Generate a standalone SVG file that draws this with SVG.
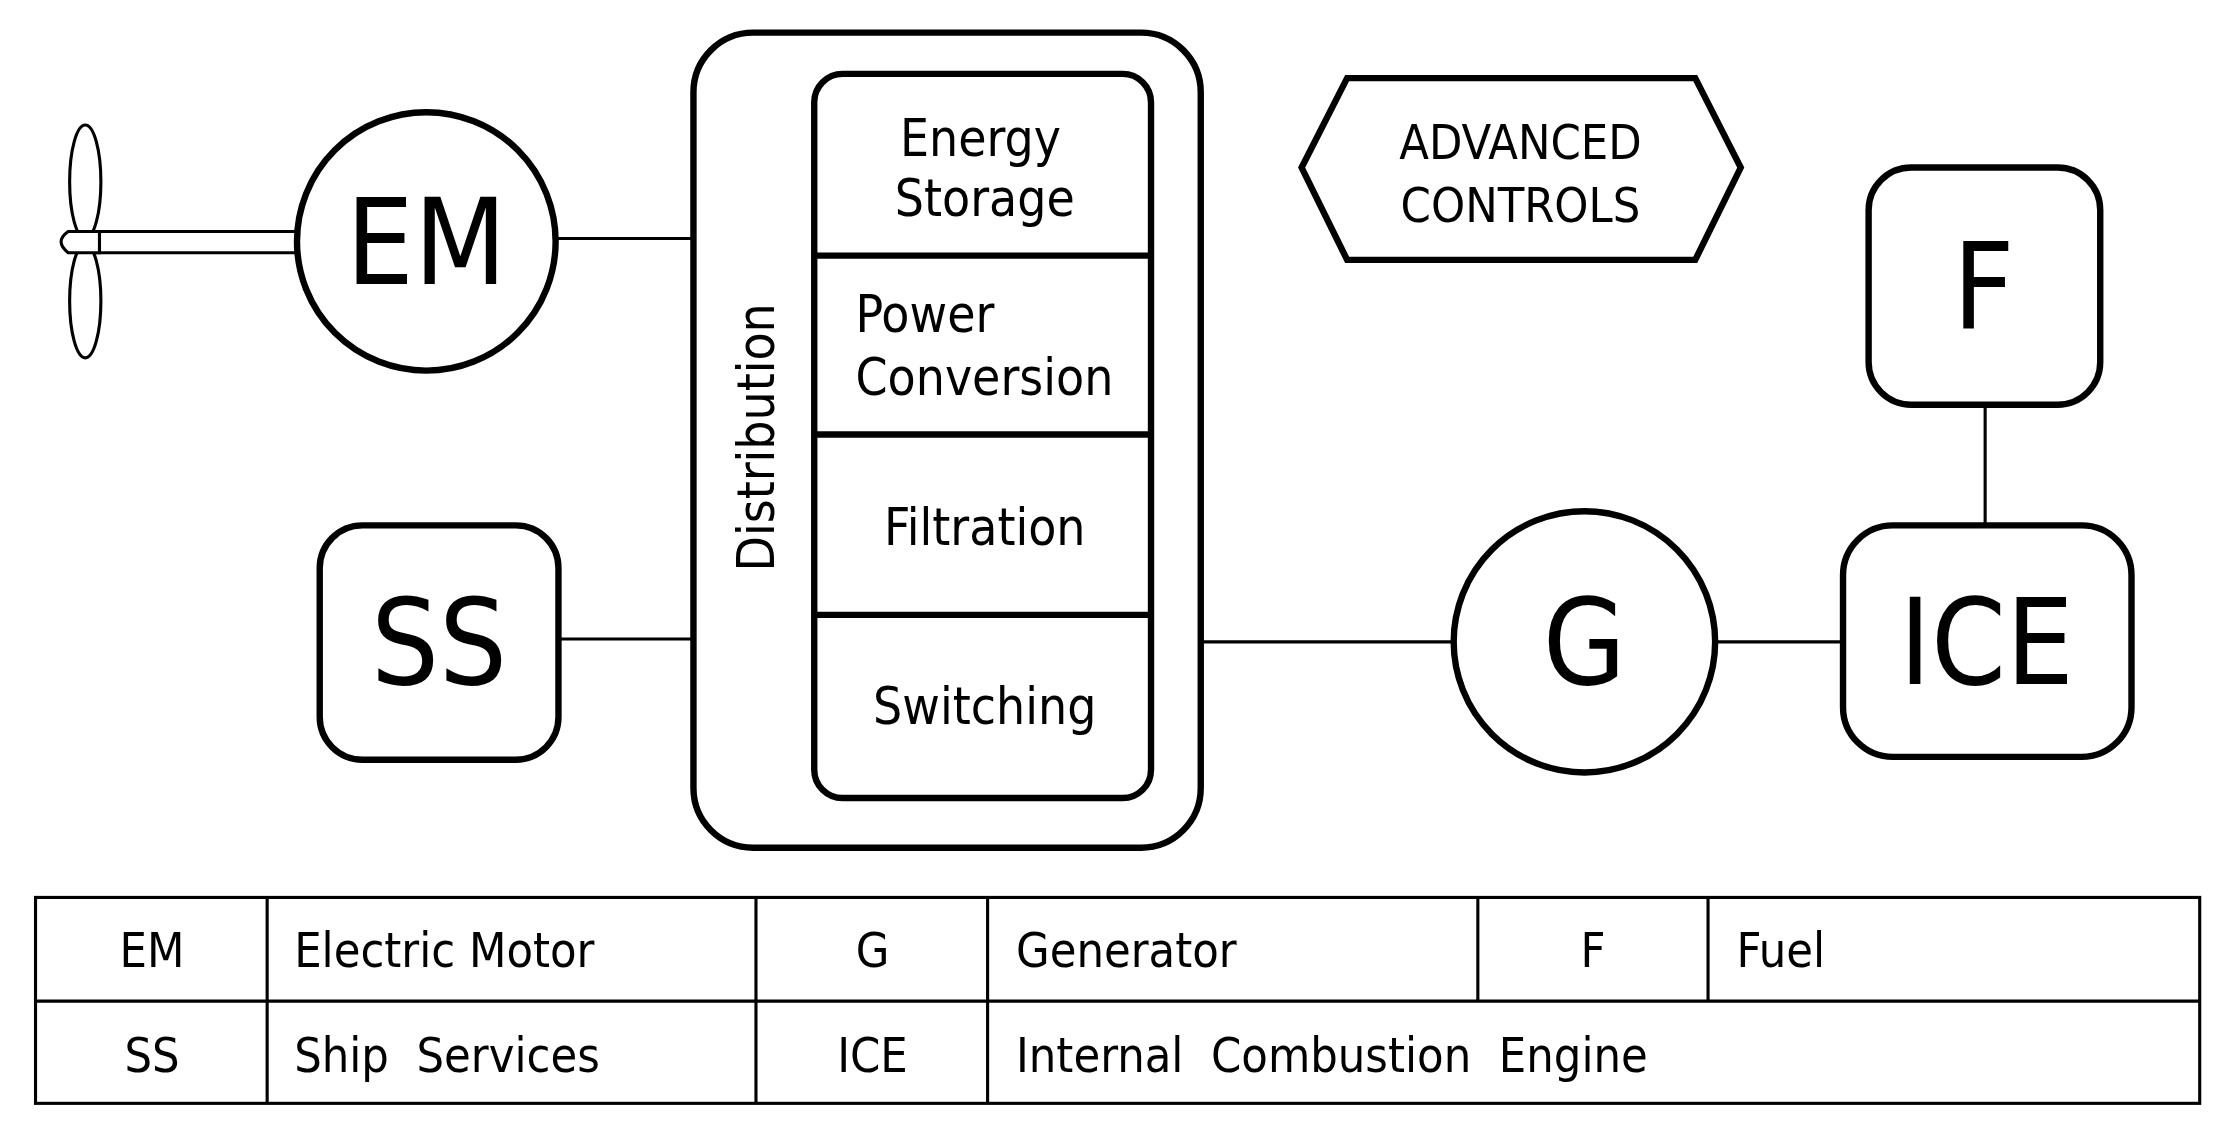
<svg xmlns="http://www.w3.org/2000/svg" width="2228" height="1136" viewBox="0 0 2228 1136">
<style>
.k{fill:none;stroke:#000;stroke-width:4.5}
.t{fill:none;stroke:#000;stroke-width:2.2}
text{font-family:"DejaVu Sans Condensed","Liberation Sans Narrow",sans-serif;fill:#000;text-anchor:middle}
.big{font-size:84px}
.m{font-size:36px}
.s{font-size:34px}
</style>
<rect width="2228" height="1136" fill="#fff"/>
<g transform="scale(1.421 1.42)">
<g id="connectors">
<line class="t" x1="392" y1="168" x2="488" y2="168"/>
<line class="t" x1="393" y1="450" x2="488" y2="450"/>
<line class="t" x1="845" y1="452" x2="1022" y2="452"/>
<line class="t" x1="1208" y1="452" x2="1297" y2="452"/>
<line class="t" x1="1397" y1="285" x2="1397" y2="370"/>
<line class="t" x1="66" y1="163" x2="208" y2="163"/>
<line class="t" x1="66" y1="178" x2="208" y2="178"/>
</g>
<g id="propeller">
<ellipse class="t" cx="60" cy="128" rx="11" ry="40"/>
<ellipse class="t" cx="60" cy="212" rx="11" ry="40"/>
<path d="M70 163 L48 163 Q38 170 48 178 L70 178 Z" fill="#fff" stroke="#000" stroke-width="2.2"/>
</g>
<g id="EM"><circle class="k" cx="300" cy="170" r="91"/><text class="big" x="300" y="200">EM</text></g>
<g id="SS"><rect class="k" x="225" y="370" width="168" height="165" rx="30"/><text class="big" x="309" y="482">SS</text></g>
<g id="distribution">
<rect class="k" x="488" y="23" width="357" height="574" rx="42"/>
<text class="m" transform="translate(545 308) rotate(-90)">Distribution</text>
<rect class="k" x="573" y="52" width="237" height="510" rx="20"/>
<line class="k" x1="573" y1="180" x2="810" y2="180"/>
<line class="k" x1="573" y1="306" x2="810" y2="306"/>
<line class="k" x1="573" y1="433" x2="810" y2="433"/>
</g>
<g id="energy-storage"><text class="m" x="690" y="110">Energy</text><text class="m" x="693" y="152">Storage</text></g>
<g id="power-conversion"><text class="m" x="602" y="234" text-anchor="start" style="text-anchor:start">Power</text><text class="m" x="602" y="278" style="text-anchor:start">Conversion</text></g>
<g id="filtration"><text class="m" x="693" y="384">Filtration</text></g>
<g id="switching"><text class="m" x="693" y="510">Switching</text></g>
<g id="advanced-controls">
<polygon class="k" points="916,118 948,55 1193,55 1225,118 1193,183 948,183"/>
<text class="s" x="1070" y="112">ADVANCED</text><text class="s" x="1070" y="156">CONTROLS</text>
</g>
<g id="G"><circle class="k" cx="1115" cy="452" r="92"/><text class="big" x="1115" y="482">G</text></g>
<g id="ICE"><rect class="k" x="1297" y="370" width="203" height="163" rx="35"/><text class="big" x="1398" y="482">ICE</text></g>
<g id="F"><rect class="k" x="1315" y="118" width="163" height="167" rx="30"/><text class="big" x="1396" y="232">F</text></g>
<g id="legend">
<rect class="t" x="25" y="632" width="1523" height="145"/>
<line class="t" x1="25" y1="705" x2="1548" y2="705"/>
<line class="t" x1="188" y1="632" x2="188" y2="777"/>
<line class="t" x1="532" y1="632" x2="532" y2="777"/>
<line class="t" x1="695" y1="632" x2="695" y2="777"/>
<line class="t" x1="1040" y1="632" x2="1040" y2="705"/>
<line class="t" x1="1202" y1="632" x2="1202" y2="705"/>
<text class="s" x="107" y="681">EM</text>
<text class="s" x="207" y="681" style="text-anchor:start">Electric  Motor</text>
<text class="s" x="614" y="681">G</text>
<text class="s" x="715" y="681" style="text-anchor:start">Generator</text>
<text class="s" x="1121" y="681">F</text>
<text class="s" x="1222" y="681" style="text-anchor:start">Fuel</text>
<text class="s" x="107" y="755">SS</text>
<text class="s" x="207" y="755" style="text-anchor:start" xml:space="preserve">Ship  Services</text>
<text class="s" x="614" y="755">ICE</text>
<text class="s" x="715" y="755" style="text-anchor:start" xml:space="preserve">Internal  Combustion  Engine</text>
</g>
</g>
</svg>
